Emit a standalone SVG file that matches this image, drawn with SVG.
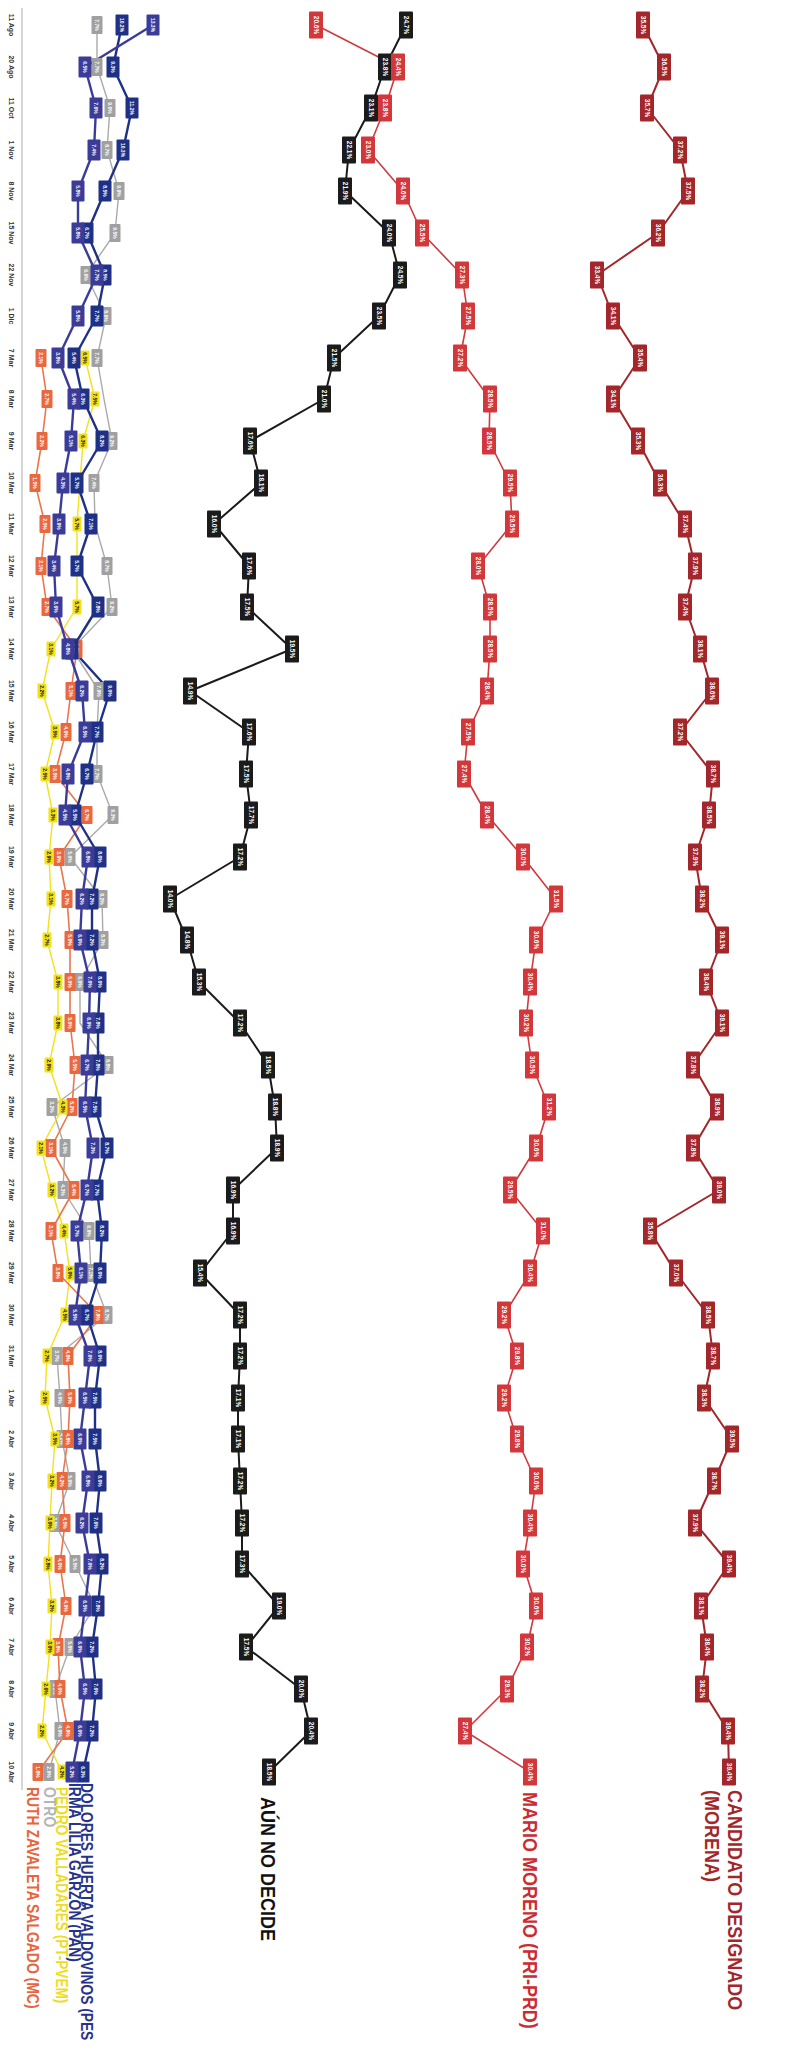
<svg xmlns="http://www.w3.org/2000/svg" width="806" height="2051" viewBox="0 0 806 2051">
<style>
.ax{stroke:#c8c8c8;stroke-width:1.5}
.dt text{font:bold 7px 'Liberation Sans',Arial,sans-serif;fill:#333;text-anchor:middle}
.cn polyline{fill:none;stroke-linejoin:round}
.lk{stroke:#1b1b1b;stroke-width:2}
.lm{stroke:#cf3a3f;stroke-width:1.6}
.ld{stroke:#a3262a;stroke-width:2}
.la{stroke:#3a3c98;stroke-width:2.4}
.lb{stroke:#1f3186;stroke-width:2.4}
.lg{stroke:#aaaaaa;stroke-width:1.4}
.ly{stroke:#f2e21a;stroke-width:1.4}
.lo{stroke:#e9764f;stroke-width:1.6}
.k{fill:#1b1b1b}.m{fill:#d2373c}.d{fill:#a3262a}.a{fill:#3a3c98}.b{fill:#1f3186}.g{fill:#a0a0a0}.y{fill:#f2e21a}.o{fill:#e8693f}
.nd text{font:bold 6.5px 'Liberation Sans',Arial,sans-serif;fill:#fff;text-anchor:middle;dominant-baseline:central;transform:rotate(90deg)}
.sm text{font-size:5px}
.y text{fill:#111}
.lab{font:bold 20px 'Liberation Sans',Arial,sans-serif}
.lab2{font:bold 17px 'Liberation Sans',Arial,sans-serif}
</style>
<defs>
<rect id="rb" x="-7" y="-13.5" width="14" height="27" rx="1"/>
<rect id="ra" x="-6.5" y="-10.5" width="13" height="21" rx="1"/>
<rect id="rg" x="-5.5" y="-9" width="11" height="18" rx="1"/>
<rect id="ry" x="-4.5" y="-7.5" width="9" height="15" rx="1"/>
</defs>
<rect width="806" height="2051" fill="#fff"/>
<line class="ax" x1="22" y1="8" x2="22" y2="1790"/>
<g class="dt">
<text transform="translate(8.5 25) rotate(90)">11 Ago</text>
<text transform="translate(8.5 67) rotate(90)">20 Ago</text>
<text transform="translate(8.5 108) rotate(90)">11 Oct</text>
<text transform="translate(8.5 150) rotate(90)">1 Nov</text>
<text transform="translate(8.5 191) rotate(90)">8 Nov</text>
<text transform="translate(8.5 233) rotate(90)">15 Nov</text>
<text transform="translate(8.5 275) rotate(90)">22 Nov</text>
<text transform="translate(8.5 316) rotate(90)">1 Dic</text>
<text transform="translate(8.5 358) rotate(90)">7 Mar</text>
<text transform="translate(8.5 399) rotate(90)">8 Mar</text>
<text transform="translate(8.5 441) rotate(90)">9 Mar</text>
<text transform="translate(8.5 483) rotate(90)">10 Mar</text>
<text transform="translate(8.5 524) rotate(90)">11 Mar</text>
<text transform="translate(8.5 566) rotate(90)">12 Mar</text>
<text transform="translate(8.5 607) rotate(90)">13 Mar</text>
<text transform="translate(8.5 649) rotate(90)">14 Mar</text>
<text transform="translate(8.5 691) rotate(90)">15 Mar</text>
<text transform="translate(8.5 732) rotate(90)">16 Mar</text>
<text transform="translate(8.5 774) rotate(90)">17 Mar</text>
<text transform="translate(8.5 815) rotate(90)">18 Mar</text>
<text transform="translate(8.5 857) rotate(90)">19 Mar</text>
<text transform="translate(8.5 899) rotate(90)">20 Mar</text>
<text transform="translate(8.5 940) rotate(90)">21 Mar</text>
<text transform="translate(8.5 982) rotate(90)">22 Mar</text>
<text transform="translate(8.5 1023) rotate(90)">23 Mar</text>
<text transform="translate(8.5 1065) rotate(90)">24 Mar</text>
<text transform="translate(8.5 1107) rotate(90)">25 Mar</text>
<text transform="translate(8.5 1148) rotate(90)">26 Mar</text>
<text transform="translate(8.5 1190) rotate(90)">27 Mar</text>
<text transform="translate(8.5 1231) rotate(90)">28 Mar</text>
<text transform="translate(8.5 1273) rotate(90)">29 Mar</text>
<text transform="translate(8.5 1315) rotate(90)">30 Mar</text>
<text transform="translate(8.5 1356) rotate(90)">31 Mar</text>
<text transform="translate(8.5 1398) rotate(90)">1 Abr</text>
<text transform="translate(8.5 1439) rotate(90)">2 Abr</text>
<text transform="translate(8.5 1481) rotate(90)">3 Abr</text>
<text transform="translate(8.5 1523) rotate(90)">4 Abr</text>
<text transform="translate(8.5 1564) rotate(90)">5 Abr</text>
<text transform="translate(8.5 1606) rotate(90)">6 Abr</text>
<text transform="translate(8.5 1647) rotate(90)">7 Abr</text>
<text transform="translate(8.5 1689) rotate(90)">8 Abr</text>
<text transform="translate(8.5 1731) rotate(90)">9 Abr</text>
<text transform="translate(8.5 1772) rotate(90)">10 Abr</text>
</g>
<g id="connectors" class="cn">
<polyline class="lk" points="406,25 385,67 371,108 349,150 345,191 389,233 400,275 379,316 334,358 324,399 250,441 261,483 214,524 249,566 247,607 292,649 190,691 249,732 246,774 251,815 240,857 170,899 187,940 199,982 240,1023 268,1065 275,1107 277,1148 233,1190 233,1231 200,1273 240,1315 240,1356 238,1398 238,1439 240,1481 242,1523 242,1564 279,1606 246,1647 301,1689 311,1731 269,1772"/>
<polyline class="lm" points="316,25 398,67 385,108 368,150 403,191 422,233 462,275 468,316 460,358 490,399 489,441 510,483 512,524 478,566 490,607 490,649 487,691 468,732 464,774 487,815 523,857 556,899 536,940 530,982 526,1023 532,1065 549,1107 536,1148 510,1190 543,1231 530,1273 504,1315 517,1356 504,1398 517,1439 536,1481 530,1523 523,1564 536,1606 527,1647 507,1689 465,1731 530,1772"/>
<polyline class="ld" points="643,25 664,67 647,108 680,150 688,191 658,233 597,275 613,316 640,358 613,399 638,441 660,483 685,524 695,566 685,607 700,649 712,691 680,732 713,774 709,815 695,857 702,899 722,940 706,982 722,1023 693,1065 717,1107 693,1148 719,1190 650,1231 676,1273 708,1315 713,1356 704,1398 732,1439 714,1481 695,1523 729,1564 701,1606 707,1647 702,1689 728,1731 729,1772"/>
<polyline class="lg" points="97,25 97,67 110,108 107,150 119,191 115,233 86,275 106,316 97,358 104,399 112,441 94,483 95,524 107,566 112,607 72,649 99,691 97,732 97,774 113,815 70,857 102,899 103,940 80,982 80,1023 108,1065 52,1107 65,1148 63,1190 89,1231 91,1273 107,1315 57,1356 60,1398 62,1439 70,1481 55,1523 75,1564 95,1606 70,1647 55,1689 60,1731 49,1772"/>
<polyline class="ly" points="85,358 95,399 83,441 80,483 77,524 77,566 77,607 51,649 42,691 55,732 45,774 53,815 49,857 51,899 47,940 58,982 58,1023 49,1065 63,1107 41,1148 52,1190 64,1231 70,1273 65,1315 47,1356 45,1398 55,1439 52,1481 50,1523 48,1564 52,1606 50,1647 46,1689 42,1731 62,1772"/>
<polyline class="lo" points="41,358 47,399 42,441 35,483 45,524 41,566 47,607 77,649 71,691 66,732 55,774 87,815 59,857 67,899 70,940 70,982 70,1023 75,1065 72,1107 51,1148 74,1190 51,1231 58,1273 98,1315 68,1356 70,1398 68,1439 62,1481 65,1523 60,1564 66,1606 58,1647 60,1689 68,1731 38,1772"/>
<polyline class="lb" points="122,25 113,67 132,108 123,150 105,191 87,233 105,275 97,316 74,358 83,399 102,441 77,483 91,524 77,566 98,607 72,649 110,691 97,732 87,774 75,815 100,857 92,899 92,940 100,982 98,1023 98,1065 95,1107 107,1148 97,1190 102,1231 100,1273 87,1315 100,1356 95,1398 95,1439 100,1481 96,1523 102,1564 98,1606 92,1647 96,1689 92,1731 83,1772"/>
<polyline class="la" points="153,25 85,67 96,108 94,150 78,191 78,233 97,275 78,316 58,358 74,399 71,441 63,483 59,524 54,566 56,607 68,649 82,691 85,732 68,774 65,815 88,857 82,899 80,940 90,982 89,1023 87,1065 85,1107 93,1148 87,1190 77,1231 81,1273 75,1315 90,1356 85,1398 80,1439 88,1481 82,1523 90,1564 85,1606 80,1647 85,1689 80,1731 72,1772"/>
</g>
<g id="nodes-aun" class="nd">
<g id="k0" class="k" transform="translate(406 25)"><use href="#rb"/><text>24.7%</text></g>
<g id="k1" class="k" transform="translate(385 67)"><use href="#rb"/><text>23.8%</text></g>
<g id="k2" class="k" transform="translate(371 108)"><use href="#rb"/><text>23.1%</text></g>
<g id="k3" class="k" transform="translate(349 150)"><use href="#rb"/><text>22.1%</text></g>
<g id="k4" class="k" transform="translate(345 191)"><use href="#rb"/><text>21.9%</text></g>
<g id="k5" class="k" transform="translate(389 233)"><use href="#rb"/><text>24.0%</text></g>
<g id="k6" class="k" transform="translate(400 275)"><use href="#rb"/><text>24.5%</text></g>
<g id="k7" class="k" transform="translate(379 316)"><use href="#rb"/><text>23.5%</text></g>
<g id="k8" class="k" transform="translate(334 358)"><use href="#rb"/><text>21.5%</text></g>
<g id="k9" class="k" transform="translate(324 399)"><use href="#rb"/><text>21.0%</text></g>
<g id="k10" class="k" transform="translate(250 441)"><use href="#rb"/><text>17.6%</text></g>
<g id="k11" class="k" transform="translate(261 483)"><use href="#rb"/><text>18.1%</text></g>
<g id="k12" class="k" transform="translate(214 524)"><use href="#rb"/><text>16.0%</text></g>
<g id="k13" class="k" transform="translate(249 566)"><use href="#rb"/><text>17.6%</text></g>
<g id="k14" class="k" transform="translate(247 607)"><use href="#rb"/><text>17.5%</text></g>
<g id="k15" class="k" transform="translate(292 649)"><use href="#rb"/><text>19.5%</text></g>
<g id="k16" class="k" transform="translate(190 691)"><use href="#rb"/><text>14.9%</text></g>
<g id="k17" class="k" transform="translate(249 732)"><use href="#rb"/><text>17.6%</text></g>
<g id="k18" class="k" transform="translate(246 774)"><use href="#rb"/><text>17.5%</text></g>
<g id="k19" class="k" transform="translate(251 815)"><use href="#rb"/><text>17.7%</text></g>
<g id="k20" class="k" transform="translate(240 857)"><use href="#rb"/><text>17.2%</text></g>
<g id="k21" class="k" transform="translate(170 899)"><use href="#rb"/><text>14.0%</text></g>
<g id="k22" class="k" transform="translate(187 940)"><use href="#rb"/><text>14.8%</text></g>
<g id="k23" class="k" transform="translate(199 982)"><use href="#rb"/><text>15.3%</text></g>
<g id="k24" class="k" transform="translate(240 1023)"><use href="#rb"/><text>17.2%</text></g>
<g id="k25" class="k" transform="translate(268 1065)"><use href="#rb"/><text>18.5%</text></g>
<g id="k26" class="k" transform="translate(275 1107)"><use href="#rb"/><text>18.8%</text></g>
<g id="k27" class="k" transform="translate(277 1148)"><use href="#rb"/><text>18.9%</text></g>
<g id="k28" class="k" transform="translate(233 1190)"><use href="#rb"/><text>16.9%</text></g>
<g id="k29" class="k" transform="translate(233 1231)"><use href="#rb"/><text>16.9%</text></g>
<g id="k30" class="k" transform="translate(200 1273)"><use href="#rb"/><text>15.4%</text></g>
<g id="k31" class="k" transform="translate(240 1315)"><use href="#rb"/><text>17.2%</text></g>
<g id="k32" class="k" transform="translate(240 1356)"><use href="#rb"/><text>17.2%</text></g>
<g id="k33" class="k" transform="translate(238 1398)"><use href="#rb"/><text>17.1%</text></g>
<g id="k34" class="k" transform="translate(238 1439)"><use href="#rb"/><text>17.1%</text></g>
<g id="k35" class="k" transform="translate(240 1481)"><use href="#rb"/><text>17.2%</text></g>
<g id="k36" class="k" transform="translate(242 1523)"><use href="#rb"/><text>17.2%</text></g>
<g id="k37" class="k" transform="translate(242 1564)"><use href="#rb"/><text>17.3%</text></g>
<g id="k38" class="k" transform="translate(279 1606)"><use href="#rb"/><text>19.0%</text></g>
<g id="k39" class="k" transform="translate(246 1647)"><use href="#rb"/><text>17.5%</text></g>
<g id="k40" class="k" transform="translate(301 1689)"><use href="#rb"/><text>20.0%</text></g>
<g id="k41" class="k" transform="translate(311 1731)"><use href="#rb"/><text>20.4%</text></g>
<g id="k42" class="k" transform="translate(269 1772)"><use href="#rb"/><text>18.5%</text></g>
</g>
<g id="nodes-mario" class="nd">
<g id="m0" class="m" transform="translate(316 25)"><use href="#rb"/><text>20.6%</text></g>
<g id="m1" class="m" transform="translate(398 67)"><use href="#rb"/><text>24.4%</text></g>
<g id="m2" class="m" transform="translate(385 108)"><use href="#rb"/><text>23.8%</text></g>
<g id="m3" class="m" transform="translate(368 150)"><use href="#rb"/><text>23.0%</text></g>
<g id="m4" class="m" transform="translate(403 191)"><use href="#rb"/><text>24.6%</text></g>
<g id="m5" class="m" transform="translate(422 233)"><use href="#rb"/><text>25.5%</text></g>
<g id="m6" class="m" transform="translate(462 275)"><use href="#rb"/><text>27.3%</text></g>
<g id="m7" class="m" transform="translate(468 316)"><use href="#rb"/><text>27.5%</text></g>
<g id="m8" class="m" transform="translate(460 358)"><use href="#rb"/><text>27.2%</text></g>
<g id="m9" class="m" transform="translate(490 399)"><use href="#rb"/><text>28.5%</text></g>
<g id="m10" class="m" transform="translate(489 441)"><use href="#rb"/><text>28.5%</text></g>
<g id="m11" class="m" transform="translate(510 483)"><use href="#rb"/><text>29.5%</text></g>
<g id="m12" class="m" transform="translate(512 524)"><use href="#rb"/><text>29.5%</text></g>
<g id="m13" class="m" transform="translate(478 566)"><use href="#rb"/><text>28.0%</text></g>
<g id="m14" class="m" transform="translate(490 607)"><use href="#rb"/><text>28.5%</text></g>
<g id="m15" class="m" transform="translate(490 649)"><use href="#rb"/><text>28.5%</text></g>
<g id="m16" class="m" transform="translate(487 691)"><use href="#rb"/><text>28.4%</text></g>
<g id="m17" class="m" transform="translate(468 732)"><use href="#rb"/><text>27.5%</text></g>
<g id="m18" class="m" transform="translate(464 774)"><use href="#rb"/><text>27.4%</text></g>
<g id="m19" class="m" transform="translate(487 815)"><use href="#rb"/><text>28.4%</text></g>
<g id="m20" class="m" transform="translate(523 857)"><use href="#rb"/><text>30.0%</text></g>
<g id="m21" class="m" transform="translate(556 899)"><use href="#rb"/><text>31.5%</text></g>
<g id="m22" class="m" transform="translate(536 940)"><use href="#rb"/><text>30.6%</text></g>
<g id="m23" class="m" transform="translate(530 982)"><use href="#rb"/><text>30.4%</text></g>
<g id="m24" class="m" transform="translate(526 1023)"><use href="#rb"/><text>30.2%</text></g>
<g id="m25" class="m" transform="translate(532 1065)"><use href="#rb"/><text>30.5%</text></g>
<g id="m26" class="m" transform="translate(549 1107)"><use href="#rb"/><text>31.2%</text></g>
<g id="m27" class="m" transform="translate(536 1148)"><use href="#rb"/><text>30.6%</text></g>
<g id="m28" class="m" transform="translate(510 1190)"><use href="#rb"/><text>29.5%</text></g>
<g id="m29" class="m" transform="translate(543 1231)"><use href="#rb"/><text>31.0%</text></g>
<g id="m30" class="m" transform="translate(530 1273)"><use href="#rb"/><text>30.4%</text></g>
<g id="m31" class="m" transform="translate(504 1315)"><use href="#rb"/><text>29.2%</text></g>
<g id="m32" class="m" transform="translate(517 1356)"><use href="#rb"/><text>29.8%</text></g>
<g id="m33" class="m" transform="translate(504 1398)"><use href="#rb"/><text>29.2%</text></g>
<g id="m34" class="m" transform="translate(517 1439)"><use href="#rb"/><text>29.8%</text></g>
<g id="m35" class="m" transform="translate(536 1481)"><use href="#rb"/><text>30.6%</text></g>
<g id="m36" class="m" transform="translate(530 1523)"><use href="#rb"/><text>30.4%</text></g>
<g id="m37" class="m" transform="translate(523 1564)"><use href="#rb"/><text>30.0%</text></g>
<g id="m38" class="m" transform="translate(536 1606)"><use href="#rb"/><text>30.6%</text></g>
<g id="m39" class="m" transform="translate(527 1647)"><use href="#rb"/><text>30.2%</text></g>
<g id="m40" class="m" transform="translate(507 1689)"><use href="#rb"/><text>29.3%</text></g>
<g id="m41" class="m" transform="translate(465 1731)"><use href="#rb"/><text>27.4%</text></g>
<g id="m42" class="m" transform="translate(530 1772)"><use href="#rb"/><text>30.4%</text></g>
</g>
<g id="nodes-morena" class="nd">
<g id="d0" class="d" transform="translate(643 25)"><use href="#rb"/><text>35.5%</text></g>
<g id="d1" class="d" transform="translate(664 67)"><use href="#rb"/><text>36.5%</text></g>
<g id="d2" class="d" transform="translate(647 108)"><use href="#rb"/><text>35.7%</text></g>
<g id="d3" class="d" transform="translate(680 150)"><use href="#rb"/><text>37.2%</text></g>
<g id="d4" class="d" transform="translate(688 191)"><use href="#rb"/><text>37.5%</text></g>
<g id="d5" class="d" transform="translate(658 233)"><use href="#rb"/><text>36.2%</text></g>
<g id="d6" class="d" transform="translate(597 275)"><use href="#rb"/><text>33.4%</text></g>
<g id="d7" class="d" transform="translate(613 316)"><use href="#rb"/><text>34.1%</text></g>
<g id="d8" class="d" transform="translate(640 358)"><use href="#rb"/><text>35.4%</text></g>
<g id="d9" class="d" transform="translate(613 399)"><use href="#rb"/><text>34.1%</text></g>
<g id="d10" class="d" transform="translate(638 441)"><use href="#rb"/><text>35.3%</text></g>
<g id="d11" class="d" transform="translate(660 483)"><use href="#rb"/><text>36.3%</text></g>
<g id="d12" class="d" transform="translate(685 524)"><use href="#rb"/><text>37.4%</text></g>
<g id="d13" class="d" transform="translate(695 566)"><use href="#rb"/><text>37.9%</text></g>
<g id="d14" class="d" transform="translate(685 607)"><use href="#rb"/><text>37.4%</text></g>
<g id="d15" class="d" transform="translate(700 649)"><use href="#rb"/><text>38.1%</text></g>
<g id="d16" class="d" transform="translate(712 691)"><use href="#rb"/><text>38.6%</text></g>
<g id="d17" class="d" transform="translate(680 732)"><use href="#rb"/><text>37.2%</text></g>
<g id="d18" class="d" transform="translate(713 774)"><use href="#rb"/><text>38.7%</text></g>
<g id="d19" class="d" transform="translate(709 815)"><use href="#rb"/><text>38.5%</text></g>
<g id="d20" class="d" transform="translate(695 857)"><use href="#rb"/><text>37.9%</text></g>
<g id="d21" class="d" transform="translate(702 899)"><use href="#rb"/><text>38.2%</text></g>
<g id="d22" class="d" transform="translate(722 940)"><use href="#rb"/><text>39.1%</text></g>
<g id="d23" class="d" transform="translate(706 982)"><use href="#rb"/><text>38.4%</text></g>
<g id="d24" class="d" transform="translate(722 1023)"><use href="#rb"/><text>39.1%</text></g>
<g id="d25" class="d" transform="translate(693 1065)"><use href="#rb"/><text>37.8%</text></g>
<g id="d26" class="d" transform="translate(717 1107)"><use href="#rb"/><text>38.9%</text></g>
<g id="d27" class="d" transform="translate(693 1148)"><use href="#rb"/><text>37.8%</text></g>
<g id="d28" class="d" transform="translate(719 1190)"><use href="#rb"/><text>39.0%</text></g>
<g id="d29" class="d" transform="translate(650 1231)"><use href="#rb"/><text>35.8%</text></g>
<g id="d30" class="d" transform="translate(676 1273)"><use href="#rb"/><text>37.0%</text></g>
<g id="d31" class="d" transform="translate(708 1315)"><use href="#rb"/><text>38.5%</text></g>
<g id="d32" class="d" transform="translate(713 1356)"><use href="#rb"/><text>38.7%</text></g>
<g id="d33" class="d" transform="translate(704 1398)"><use href="#rb"/><text>38.3%</text></g>
<g id="d34" class="d" transform="translate(732 1439)"><use href="#rb"/><text>39.5%</text></g>
<g id="d35" class="d" transform="translate(714 1481)"><use href="#rb"/><text>38.7%</text></g>
<g id="d36" class="d" transform="translate(695 1523)"><use href="#rb"/><text>37.9%</text></g>
<g id="d37" class="d" transform="translate(729 1564)"><use href="#rb"/><text>39.4%</text></g>
<g id="d38" class="d" transform="translate(701 1606)"><use href="#rb"/><text>38.1%</text></g>
<g id="d39" class="d" transform="translate(707 1647)"><use href="#rb"/><text>38.4%</text></g>
<g id="d40" class="d" transform="translate(702 1689)"><use href="#rb"/><text>38.2%</text></g>
<g id="d41" class="d" transform="translate(728 1731)"><use href="#rb"/><text>39.4%</text></g>
<g id="d42" class="d" transform="translate(729 1772)"><use href="#rb"/><text>39.4%</text></g>
</g>
<g id="nodes-otro" class="nd sm">
<g id="g0" class="g" transform="translate(97 25)"><use href="#rg"/><text>7.7%</text></g>
<g id="g1" class="g" transform="translate(97 67)"><use href="#rg"/><text>7.7%</text></g>
<g id="g2" class="g" transform="translate(110 108)"><use href="#rg"/><text>9.0%</text></g>
<g id="g3" class="g" transform="translate(107 150)"><use href="#rg"/><text>8.7%</text></g>
<g id="g4" class="g" transform="translate(119 191)"><use href="#rg"/><text>9.9%</text></g>
<g id="g5" class="g" transform="translate(115 233)"><use href="#rg"/><text>9.5%</text></g>
<g id="g6" class="g" transform="translate(86 275)"><use href="#rg"/><text>6.6%</text></g>
<g id="g7" class="g" transform="translate(106 316)"><use href="#rg"/><text>8.6%</text></g>
<g id="g8" class="g" transform="translate(97 358)"><use href="#rg"/><text>7.7%</text></g>
<g id="g10" class="g" transform="translate(112 441)"><use href="#rg"/><text>9.2%</text></g>
<g id="g11" class="g" transform="translate(94 483)"><use href="#rg"/><text>7.4%</text></g>
<g id="g13" class="g" transform="translate(107 566)"><use href="#rg"/><text>8.7%</text></g>
<g id="g14" class="g" transform="translate(112 607)"><use href="#rg"/><text>9.2%</text></g>
<g id="g16" class="g" transform="translate(99 691)"><use href="#rg"/><text>7.9%</text></g>
<g id="g17" class="g" transform="translate(97 732)"><use href="#rg"/><text>7.7%</text></g>
<g id="g18" class="g" transform="translate(97 774)"><use href="#rg"/><text>7.7%</text></g>
<g id="g19" class="g" transform="translate(113 815)"><use href="#rg"/><text>9.3%</text></g>
<g id="g20" class="g" transform="translate(70 857)"><use href="#rg"/><text>5.0%</text></g>
<g id="g21" class="g" transform="translate(102 899)"><use href="#rg"/><text>8.2%</text></g>
<g id="g22" class="g" transform="translate(103 940)"><use href="#rg"/><text>8.3%</text></g>
<g id="g23" class="g" transform="translate(80 982)"><use href="#rg"/><text>6.0%</text></g>
<g id="g25" class="g" transform="translate(108 1065)"><use href="#rg"/><text>8.8%</text></g>
<g id="g26" class="g" transform="translate(52 1107)"><use href="#rg"/><text>3.2%</text></g>
<g id="g27" class="g" transform="translate(65 1148)"><use href="#rg"/><text>4.5%</text></g>
<g id="g28" class="g" transform="translate(63 1190)"><use href="#rg"/><text>4.3%</text></g>
<g id="g29" class="g" transform="translate(89 1231)"><use href="#rg"/><text>6.9%</text></g>
<g id="g30" class="g" transform="translate(91 1273)"><use href="#rg"/><text>7.1%</text></g>
<g id="g31" class="g" transform="translate(107 1315)"><use href="#rg"/><text>8.7%</text></g>
<g id="g32" class="g" transform="translate(57 1356)"><use href="#rg"/><text>3.7%</text></g>
<g id="g33" class="g" transform="translate(60 1398)"><use href="#rg"/><text>4.0%</text></g>
<g id="g34" class="g" transform="translate(62 1439)"><use href="#rg"/><text>4.2%</text></g>
<g id="g35" class="g" transform="translate(70 1481)"><use href="#rg"/><text>5.0%</text></g>
<g id="g36" class="g" transform="translate(55 1523)"><use href="#rg"/><text>3.5%</text></g>
<g id="g37" class="g" transform="translate(75 1564)"><use href="#rg"/><text>5.5%</text></g>
<g id="g38" class="g" transform="translate(95 1606)"><use href="#rg"/><text>7.5%</text></g>
<g id="g39" class="g" transform="translate(70 1647)"><use href="#rg"/><text>5.0%</text></g>
<g id="g40" class="g" transform="translate(55 1689)"><use href="#rg"/><text>3.5%</text></g>
<g id="g41" class="g" transform="translate(60 1731)"><use href="#rg"/><text>4.0%</text></g>
<g id="g42" class="g" transform="translate(49 1772)"><use href="#rg"/><text>2.9%</text></g>
</g>
<g id="nodes-ruth" class="nd sm">
<g id="o8" class="o" transform="translate(41 358)"><use href="#rg"/><text>2.1%</text></g>
<g id="o9" class="o" transform="translate(47 399)"><use href="#rg"/><text>2.7%</text></g>
<g id="o10" class="o" transform="translate(42 441)"><use href="#rg"/><text>2.2%</text></g>
<g id="o11" class="o" transform="translate(35 483)"><use href="#rg"/><text>1.5%</text></g>
<g id="o12" class="o" transform="translate(45 524)"><use href="#rg"/><text>2.5%</text></g>
<g id="o13" class="o" transform="translate(41 566)"><use href="#rg"/><text>2.1%</text></g>
<g id="o14" class="o" transform="translate(47 607)"><use href="#rg"/><text>2.7%</text></g>
<g id="o15" class="o" transform="translate(77 649)"><use href="#rg"/><text>5.7%</text></g>
<g id="o16" class="o" transform="translate(71 691)"><use href="#rg"/><text>5.1%</text></g>
<g id="o17" class="o" transform="translate(66 732)"><use href="#rg"/><text>4.6%</text></g>
<g id="o18" class="o" transform="translate(55 774)"><use href="#rg"/><text>3.5%</text></g>
<g id="o19" class="o" transform="translate(87 815)"><use href="#rg"/><text>6.7%</text></g>
<g id="o20" class="o" transform="translate(59 857)"><use href="#rg"/><text>3.9%</text></g>
<g id="o21" class="o" transform="translate(67 899)"><use href="#rg"/><text>4.7%</text></g>
<g id="o22" class="o" transform="translate(70 940)"><use href="#rg"/><text>5.0%</text></g>
<g id="o23" class="o" transform="translate(70 982)"><use href="#rg"/><text>5.0%</text></g>
<g id="o24" class="o" transform="translate(70 1023)"><use href="#rg"/><text>5.0%</text></g>
<g id="o25" class="o" transform="translate(75 1065)"><use href="#rg"/><text>5.5%</text></g>
<g id="o26" class="o" transform="translate(72 1107)"><use href="#rg"/><text>5.2%</text></g>
<g id="o27" class="o" transform="translate(51 1148)"><use href="#rg"/><text>3.1%</text></g>
<g id="o28" class="o" transform="translate(74 1190)"><use href="#rg"/><text>5.4%</text></g>
<g id="o29" class="o" transform="translate(51 1231)"><use href="#rg"/><text>3.1%</text></g>
<g id="o30" class="o" transform="translate(58 1273)"><use href="#rg"/><text>3.8%</text></g>
<g id="o31" class="o" transform="translate(98 1315)"><use href="#rg"/><text>7.8%</text></g>
<g id="o32" class="o" transform="translate(68 1356)"><use href="#rg"/><text>4.8%</text></g>
<g id="o33" class="o" transform="translate(70 1398)"><use href="#rg"/><text>5.0%</text></g>
<g id="o34" class="o" transform="translate(68 1439)"><use href="#rg"/><text>4.8%</text></g>
<g id="o35" class="o" transform="translate(62 1481)"><use href="#rg"/><text>4.2%</text></g>
<g id="o36" class="o" transform="translate(65 1523)"><use href="#rg"/><text>4.5%</text></g>
<g id="o37" class="o" transform="translate(60 1564)"><use href="#rg"/><text>4.0%</text></g>
<g id="o38" class="o" transform="translate(66 1606)"><use href="#rg"/><text>4.6%</text></g>
<g id="o39" class="o" transform="translate(58 1647)"><use href="#rg"/><text>3.8%</text></g>
<g id="o40" class="o" transform="translate(60 1689)"><use href="#rg"/><text>4.0%</text></g>
<g id="o41" class="o" transform="translate(68 1731)"><use href="#rg"/><text>4.8%</text></g>
<g id="o42" class="o" transform="translate(38 1772)"><use href="#rg"/><text>1.8%</text></g>
</g>
<g id="nodes-pedro" class="nd sm">
<g id="y8" class="y" transform="translate(85 358)"><use href="#ry"/><text>6.5%</text></g>
<g id="y9" class="y" transform="translate(95 399)"><use href="#ry"/><text>7.5%</text></g>
<g id="y10" class="y" transform="translate(83 441)"><use href="#ry"/><text>6.3%</text></g>
<g id="y12" class="y" transform="translate(77 524)"><use href="#ry"/><text>5.7%</text></g>
<g id="y14" class="y" transform="translate(77 607)"><use href="#ry"/><text>5.7%</text></g>
<g id="y15" class="y" transform="translate(51 649)"><use href="#ry"/><text>3.1%</text></g>
<g id="y16" class="y" transform="translate(42 691)"><use href="#ry"/><text>2.2%</text></g>
<g id="y17" class="y" transform="translate(55 732)"><use href="#ry"/><text>3.5%</text></g>
<g id="y18" class="y" transform="translate(45 774)"><use href="#ry"/><text>2.5%</text></g>
<g id="y19" class="y" transform="translate(53 815)"><use href="#ry"/><text>3.3%</text></g>
<g id="y20" class="y" transform="translate(49 857)"><use href="#ry"/><text>2.9%</text></g>
<g id="y21" class="y" transform="translate(51 899)"><use href="#ry"/><text>3.1%</text></g>
<g id="y22" class="y" transform="translate(47 940)"><use href="#ry"/><text>2.7%</text></g>
<g id="y23" class="y" transform="translate(58 982)"><use href="#ry"/><text>3.8%</text></g>
<g id="y24" class="y" transform="translate(58 1023)"><use href="#ry"/><text>3.8%</text></g>
<g id="y25" class="y" transform="translate(49 1065)"><use href="#ry"/><text>2.9%</text></g>
<g id="y26" class="y" transform="translate(63 1107)"><use href="#ry"/><text>4.3%</text></g>
<g id="y27" class="y" transform="translate(41 1148)"><use href="#ry"/><text>2.1%</text></g>
<g id="y28" class="y" transform="translate(52 1190)"><use href="#ry"/><text>3.2%</text></g>
<g id="y29" class="y" transform="translate(64 1231)"><use href="#ry"/><text>4.4%</text></g>
<g id="y30" class="y" transform="translate(70 1273)"><use href="#ry"/><text>5.0%</text></g>
<g id="y31" class="y" transform="translate(65 1315)"><use href="#ry"/><text>4.5%</text></g>
<g id="y32" class="y" transform="translate(47 1356)"><use href="#ry"/><text>2.7%</text></g>
<g id="y33" class="y" transform="translate(45 1398)"><use href="#ry"/><text>2.5%</text></g>
<g id="y34" class="y" transform="translate(55 1439)"><use href="#ry"/><text>3.5%</text></g>
<g id="y35" class="y" transform="translate(52 1481)"><use href="#ry"/><text>3.2%</text></g>
<g id="y36" class="y" transform="translate(50 1523)"><use href="#ry"/><text>3.0%</text></g>
<g id="y37" class="y" transform="translate(48 1564)"><use href="#ry"/><text>2.8%</text></g>
<g id="y38" class="y" transform="translate(52 1606)"><use href="#ry"/><text>3.2%</text></g>
<g id="y39" class="y" transform="translate(50 1647)"><use href="#ry"/><text>3.0%</text></g>
<g id="y40" class="y" transform="translate(46 1689)"><use href="#ry"/><text>2.6%</text></g>
<g id="y41" class="y" transform="translate(42 1731)"><use href="#ry"/><text>2.2%</text></g>
<g id="y42" class="y" transform="translate(62 1772)"><use href="#ry"/><text>4.2%</text></g>
</g>
<g id="nodes-dolores" class="nd sm">
<g id="b0" class="b" transform="translate(122 25)"><use href="#ra"/><text>10.2%</text></g>
<g id="b1" class="b" transform="translate(113 67)"><use href="#ra"/><text>9.3%</text></g>
<g id="b2" class="b" transform="translate(132 108)"><use href="#ra"/><text>11.2%</text></g>
<g id="b3" class="b" transform="translate(123 150)"><use href="#ra"/><text>10.3%</text></g>
<g id="b4" class="b" transform="translate(105 191)"><use href="#ra"/><text>8.5%</text></g>
<g id="b5" class="b" transform="translate(87 233)"><use href="#ra"/><text>6.7%</text></g>
<g id="b6" class="b" transform="translate(105 275)"><use href="#ra"/><text>8.5%</text></g>
<g id="b7" class="b" transform="translate(97 316)"><use href="#ra"/><text>7.7%</text></g>
<g id="b8" class="b" transform="translate(74 358)"><use href="#ra"/><text>5.4%</text></g>
<g id="b9" class="b" transform="translate(83 399)"><use href="#ra"/><text>6.3%</text></g>
<g id="b10" class="b" transform="translate(102 441)"><use href="#ra"/><text>8.2%</text></g>
<g id="b11" class="b" transform="translate(77 483)"><use href="#ra"/><text>5.7%</text></g>
<g id="b12" class="b" transform="translate(91 524)"><use href="#ra"/><text>7.1%</text></g>
<g id="b13" class="b" transform="translate(77 566)"><use href="#ra"/><text>5.7%</text></g>
<g id="b14" class="b" transform="translate(98 607)"><use href="#ra"/><text>7.8%</text></g>
<g id="b15" class="b" transform="translate(72 649)"><use href="#ra"/><text>5.2%</text></g>
<g id="b16" class="b" transform="translate(110 691)"><use href="#ra"/><text>9.0%</text></g>
<g id="b17" class="b" transform="translate(97 732)"><use href="#ra"/><text>7.7%</text></g>
<g id="b18" class="b" transform="translate(87 774)"><use href="#ra"/><text>6.7%</text></g>
<g id="b19" class="b" transform="translate(75 815)"><use href="#ra"/><text>5.5%</text></g>
<g id="b20" class="b" transform="translate(100 857)"><use href="#ra"/><text>8.0%</text></g>
<g id="b21" class="b" transform="translate(92 899)"><use href="#ra"/><text>7.2%</text></g>
<g id="b22" class="b" transform="translate(92 940)"><use href="#ra"/><text>7.2%</text></g>
<g id="b23" class="b" transform="translate(100 982)"><use href="#ra"/><text>8.0%</text></g>
<g id="b24" class="b" transform="translate(98 1023)"><use href="#ra"/><text>7.8%</text></g>
<g id="b25" class="b" transform="translate(98 1065)"><use href="#ra"/><text>7.8%</text></g>
<g id="b26" class="b" transform="translate(95 1107)"><use href="#ra"/><text>7.5%</text></g>
<g id="b27" class="b" transform="translate(107 1148)"><use href="#ra"/><text>8.7%</text></g>
<g id="b28" class="b" transform="translate(97 1190)"><use href="#ra"/><text>7.7%</text></g>
<g id="b29" class="b" transform="translate(102 1231)"><use href="#ra"/><text>8.2%</text></g>
<g id="b30" class="b" transform="translate(100 1273)"><use href="#ra"/><text>8.0%</text></g>
<g id="b31" class="b" transform="translate(87 1315)"><use href="#ra"/><text>6.7%</text></g>
<g id="b32" class="b" transform="translate(100 1356)"><use href="#ra"/><text>8.0%</text></g>
<g id="b33" class="b" transform="translate(95 1398)"><use href="#ra"/><text>7.5%</text></g>
<g id="b34" class="b" transform="translate(95 1439)"><use href="#ra"/><text>7.5%</text></g>
<g id="b35" class="b" transform="translate(100 1481)"><use href="#ra"/><text>8.0%</text></g>
<g id="b36" class="b" transform="translate(96 1523)"><use href="#ra"/><text>7.6%</text></g>
<g id="b37" class="b" transform="translate(102 1564)"><use href="#ra"/><text>8.2%</text></g>
<g id="b38" class="b" transform="translate(98 1606)"><use href="#ra"/><text>7.8%</text></g>
<g id="b39" class="b" transform="translate(92 1647)"><use href="#ra"/><text>7.2%</text></g>
<g id="b40" class="b" transform="translate(96 1689)"><use href="#ra"/><text>7.6%</text></g>
<g id="b41" class="b" transform="translate(92 1731)"><use href="#ra"/><text>7.2%</text></g>
<g id="b42" class="b" transform="translate(83 1772)"><use href="#ra"/><text>6.3%</text></g>
</g>
<g id="nodes-irma" class="nd sm">
<g id="a0" class="a" transform="translate(153 25)"><use href="#ra"/><text>13.3%</text></g>
<g id="a1" class="a" transform="translate(85 67)"><use href="#ra"/><text>6.5%</text></g>
<g id="a2" class="a" transform="translate(96 108)"><use href="#ra"/><text>7.6%</text></g>
<g id="a3" class="a" transform="translate(94 150)"><use href="#ra"/><text>7.4%</text></g>
<g id="a4" class="a" transform="translate(78 191)"><use href="#ra"/><text>5.8%</text></g>
<g id="a5" class="a" transform="translate(78 233)"><use href="#ra"/><text>5.8%</text></g>
<g id="a6" class="a" transform="translate(97 275)"><use href="#ra"/><text>7.7%</text></g>
<g id="a7" class="a" transform="translate(78 316)"><use href="#ra"/><text>5.8%</text></g>
<g id="a8" class="a" transform="translate(58 358)"><use href="#ra"/><text>3.8%</text></g>
<g id="a9" class="a" transform="translate(74 399)"><use href="#ra"/><text>5.4%</text></g>
<g id="a10" class="a" transform="translate(71 441)"><use href="#ra"/><text>5.1%</text></g>
<g id="a11" class="a" transform="translate(63 483)"><use href="#ra"/><text>4.3%</text></g>
<g id="a12" class="a" transform="translate(59 524)"><use href="#ra"/><text>3.9%</text></g>
<g id="a13" class="a" transform="translate(54 566)"><use href="#ra"/><text>3.4%</text></g>
<g id="a14" class="a" transform="translate(56 607)"><use href="#ra"/><text>3.6%</text></g>
<g id="a15" class="a" transform="translate(68 649)"><use href="#ra"/><text>4.8%</text></g>
<g id="a16" class="a" transform="translate(82 691)"><use href="#ra"/><text>6.2%</text></g>
<g id="a17" class="a" transform="translate(85 732)"><use href="#ra"/><text>6.5%</text></g>
<g id="a18" class="a" transform="translate(68 774)"><use href="#ra"/><text>4.8%</text></g>
<g id="a19" class="a" transform="translate(65 815)"><use href="#ra"/><text>4.5%</text></g>
<g id="a20" class="a" transform="translate(88 857)"><use href="#ra"/><text>6.8%</text></g>
<g id="a21" class="a" transform="translate(82 899)"><use href="#ra"/><text>6.2%</text></g>
<g id="a22" class="a" transform="translate(80 940)"><use href="#ra"/><text>6.0%</text></g>
<g id="a23" class="a" transform="translate(90 982)"><use href="#ra"/><text>7.0%</text></g>
<g id="a24" class="a" transform="translate(89 1023)"><use href="#ra"/><text>6.9%</text></g>
<g id="a25" class="a" transform="translate(87 1065)"><use href="#ra"/><text>6.7%</text></g>
<g id="a26" class="a" transform="translate(85 1107)"><use href="#ra"/><text>6.5%</text></g>
<g id="a27" class="a" transform="translate(93 1148)"><use href="#ra"/><text>7.3%</text></g>
<g id="a28" class="a" transform="translate(87 1190)"><use href="#ra"/><text>6.7%</text></g>
<g id="a29" class="a" transform="translate(77 1231)"><use href="#ra"/><text>5.7%</text></g>
<g id="a30" class="a" transform="translate(81 1273)"><use href="#ra"/><text>6.1%</text></g>
<g id="a31" class="a" transform="translate(75 1315)"><use href="#ra"/><text>5.5%</text></g>
<g id="a32" class="a" transform="translate(90 1356)"><use href="#ra"/><text>7.0%</text></g>
<g id="a33" class="a" transform="translate(85 1398)"><use href="#ra"/><text>6.5%</text></g>
<g id="a34" class="a" transform="translate(80 1439)"><use href="#ra"/><text>6.0%</text></g>
<g id="a35" class="a" transform="translate(88 1481)"><use href="#ra"/><text>6.8%</text></g>
<g id="a36" class="a" transform="translate(82 1523)"><use href="#ra"/><text>6.2%</text></g>
<g id="a37" class="a" transform="translate(90 1564)"><use href="#ra"/><text>7.0%</text></g>
<g id="a38" class="a" transform="translate(85 1606)"><use href="#ra"/><text>6.5%</text></g>
<g id="a39" class="a" transform="translate(80 1647)"><use href="#ra"/><text>6.0%</text></g>
<g id="a40" class="a" transform="translate(85 1689)"><use href="#ra"/><text>6.5%</text></g>
<g id="a41" class="a" transform="translate(80 1731)"><use href="#ra"/><text>6.0%</text></g>
<g id="a42" class="a" transform="translate(72 1772)"><use href="#ra"/><text>5.2%</text></g>
</g>
<g id="labels">
<text class="lab" fill="#111" transform="translate(261 1797) rotate(90) scale(0.9 1)">AÚN NO DECIDE</text>
<text class="lab" fill="#cc2b31" transform="translate(523 1792) rotate(90) scale(0.9 1)">MARIO MORENO (PRI-PRD)</text>
<text class="lab" fill="#a3262a" transform="translate(728 1790) rotate(90) scale(0.9 1)">CANDIDATO DESIGNADO</text>
<text class="lab" fill="#a3262a" transform="translate(705 1790) rotate(90) scale(0.9 1)">(MORENA)</text>
<text class="lab2" fill="#25338a" transform="translate(81 1783) rotate(90) scale(0.81 1)">DOLORES HUERTA VALDOVINOS (PES</text>
<text class="lab2" fill="#25338a" transform="translate(69 1783) rotate(90) scale(0.82 1)">IRMA LILIA GARZÓN (PAN)</text>
<text class="lab2" fill="#f0dc1e" transform="translate(56 1787) rotate(90) scale(0.8 1)">PEDRO VALLADARES (PT-PVEM)</text>
<text class="lab2" fill="#b5b5b5" transform="translate(44 1787) rotate(90) scale(0.82 1)">OTRO</text>
<text class="lab2" fill="#e8643c" transform="translate(27 1787) rotate(90) scale(0.82 1)">RUTH ZAVALETA SALGADO (MC)</text>
</g>
</svg>
